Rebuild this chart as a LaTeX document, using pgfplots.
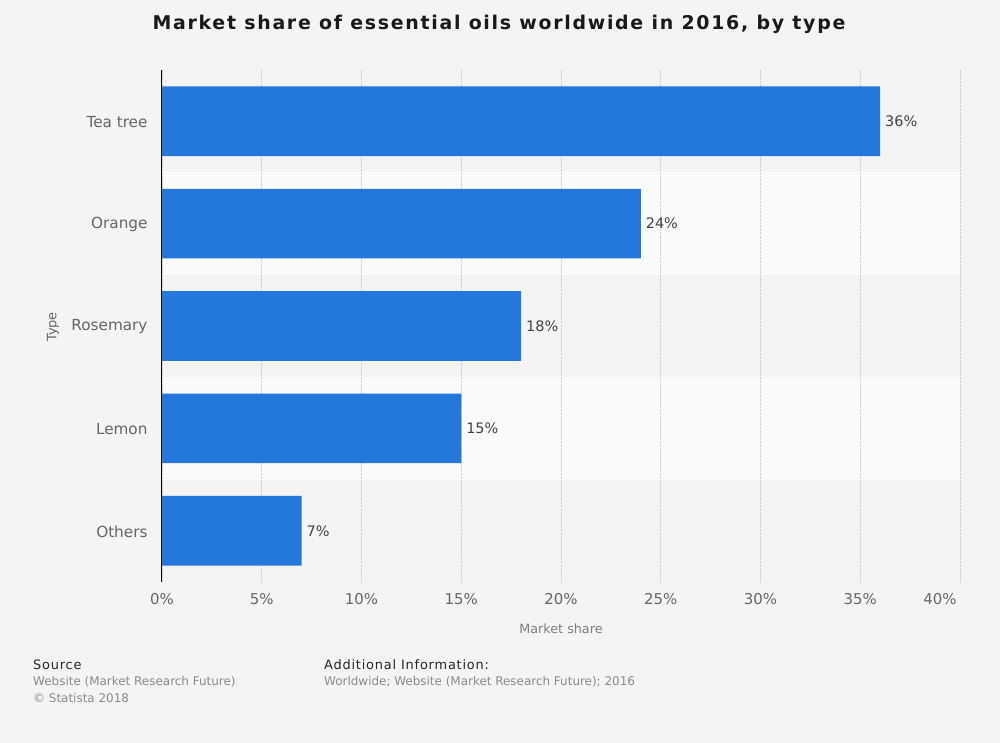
\documentclass[border=0pt]{standalone}
\usepackage{pgfplots}
\pgfplotsset{compat=1.18}
\usepackage{fontspec}
\setmainfont{DejaVu Sans}
\newfontfamily\titlefont[LetterSpace=9]{DejaVu Sans}
\newfontfamily\footfont[LetterSpace=6]{DejaVu Sans}
\definecolor{bg}{HTML}{F4F4F4}
\definecolor{band}{HTML}{FAFAFA}
\definecolor{barblue}{HTML}{2477DB}
\definecolor{ticktext}{HTML}{666666}
\definecolor{valtext}{HTML}{444444}
\definecolor{foot}{HTML}{8A8A8A}
\definecolor{gridc}{HTML}{CFCFCF}

\begin{document}
\begin{tikzpicture}[x=1bp,y=1bp]
% page background, 1000 x 743 px, axis box at (162,70)-(960,582)
\fill[bg] (-162,-161) rectangle (838,582);
\path[use as bounding box] (-162,-161) rectangle (838,582);
% alternating row bands
\fill[band] (0,102.4) rectangle (798,204.8);
\fill[band] (0,307.2) rectangle (798,409.6);

\begin{axis}[
    at={(0,0)}, anchor=south west,
    scale only axis,
    width=798bp, height=512bp,
    xbar, bar width=0.68,
    xmin=0, xmax=40,
    ymin=-0.5, ymax=4.5,
    xtick={0,5,...,35},
    extra x ticks={40},
    extra x tick style={xmajorgrids, xticklabel style={anchor=north east, xshift=0bp}},
    xticklabel={\pgfmathprintnumber{\tick}\%},
    ytick={0,1,2,3,4},
    yticklabels={Others,Lemon,Rosemary,Orange,Tea tree},
    /pgf/number format/assume math mode=true,
    major tick length=0pt,
    axis x line*=bottom, axis y line*=left,
    x axis line style={draw=none},
    y axis line style={black, line width=1bp, -},
    xmajorgrids,
    grid style={gridc, densely dotted, line width=0.8bp},
    xticklabel style={font=\fontsize{15}{17}\selectfont, text=ticktext, yshift=-8bp},
    yticklabel style={font=\fontsize{15.3}{17}\selectfont, text=ticktext, xshift=-11bp, yshift=-1bp},
    nodes near coords={\pgfmathprintnumber{\pgfplotspointmeta}\%},
    nodes near coords style={font=\fontsize{14.5}{16}\selectfont, text=valtext, anchor=west, xshift=1.5bp},
    point meta=x,
]
\addplot[fill=barblue, draw=none] coordinates {
(7,0)
(15,1)
(18,2)
(24,3)
(36,4)
};
\end{axis}

% axis labels
\node[rotate=90, text=ticktext, font=\fontsize{13}{15}\selectfont] at (-109,255) {Type};
\node[text=foot!90!black, font=\fontsize{12.8}{14}\selectfont] at (399,-47) {Market share};
% title
\node[font=\titlefont\fontsize{19}{22}\selectfont\bfseries, text=black!90] at (337,558) {Market share of essential oils worldwide in 2016, by type};
% footer
\node[anchor=west, inner sep=0, font=\footfont\fontsize{13}{15}\selectfont, text=black!85] at (-129,-83) {Source};
\node[anchor=west, inner sep=0, font=\fontsize{12}{14}\selectfont, text=foot] at (-129,-100) {Website (Market Research Future)};
\node[anchor=west, inner sep=0, font=\fontsize{12}{14}\selectfont, text=foot] at (-129,-116) {© Statista 2018};
\node[anchor=west, inner sep=0, font=\footfont\fontsize{13}{15}\selectfont, text=black!85] at (162,-83) {Additional Information:};
\node[anchor=west, inner sep=0, font=\fontsize{12}{14}\selectfont, text=foot] at (162,-100) {Worldwide; Website (Market Research Future); 2016};
\end{tikzpicture}
\end{document}
